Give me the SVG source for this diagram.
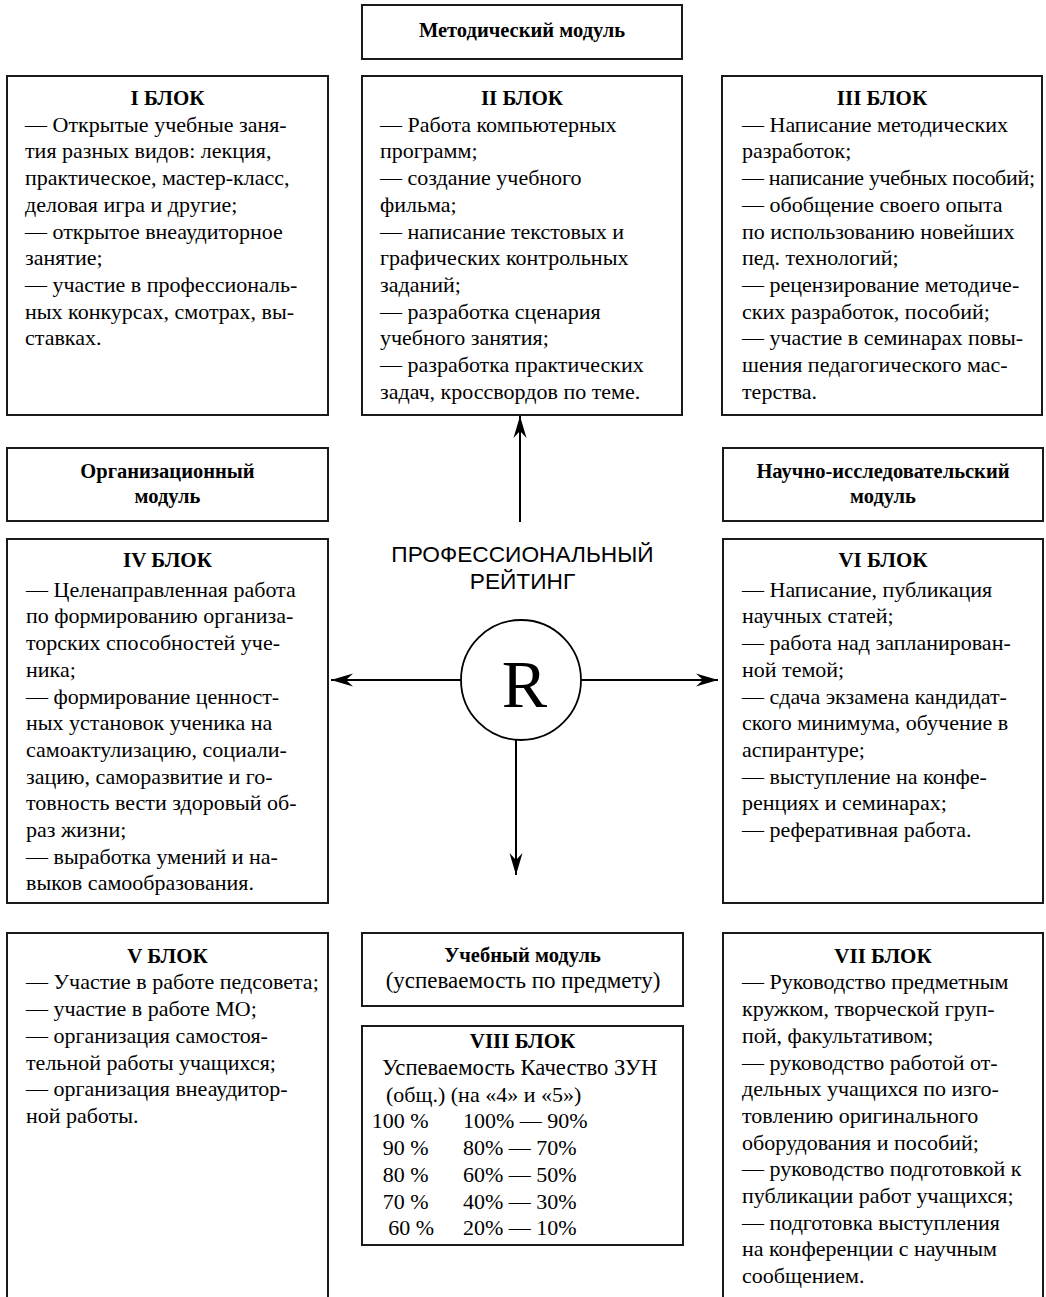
<svg xmlns="http://www.w3.org/2000/svg" width="1046" height="1297" viewBox="0 0 1046 1297">
<style>
.box{fill:#fff;stroke:#1a1a1a;stroke-width:2}
.t{font-family:"Liberation Serif","Times New Roman",serif;font-size:22px;fill:#000}
.h{font-family:"Liberation Serif","Times New Roman",serif;font-weight:bold;font-size:21px;text-anchor:middle;fill:#000}
.m{font-family:"Liberation Serif","Times New Roman",serif;font-weight:bold;font-size:20.5px;text-anchor:middle;fill:#000}
.pr{font-family:"Liberation Sans",Arial,sans-serif;font-size:22.7px;text-anchor:middle;fill:#000}
.conn{stroke:#000;stroke-width:2;fill:none;marker-end:url(#arr)}
</style>
<defs>
<marker id="arr" viewBox="-23 -7 24 14" refX="0" refY="0" markerWidth="24" markerHeight="14" markerUnits="userSpaceOnUse" orient="auto">
<path d="M0,0 L-22,-6.5 L-15,0 L-22,6.5 Z" fill="#000"/>
</marker>
</defs>
<rect width="1046" height="1297" fill="#fff"/>

<g id="metod-module">
<rect class="box" x="362" y="5" width="320" height="54"/>
<text class="m" x="522" y="37">Методический модуль</text>
</g>

<g id="block1">
<rect class="box" x="7" y="76" width="321" height="339"/>
<text class="h" x="167.5" y="105">I БЛОК</text>
<text class="t">
<tspan x="25" y="131.7">— Открытые учебные заня-</tspan>
<tspan x="25" y="158.4">тия разных видов: лекция,</tspan>
<tspan x="25" y="185.1">практическое, мастер-класс,</tspan>
<tspan x="25" y="211.8">деловая игра и другие;</tspan>
<tspan x="25" y="238.5">— открытое внеаудиторное</tspan>
<tspan x="25" y="265.2">занятие;</tspan>
<tspan x="25" y="291.9">— участие в профессиональ-</tspan>
<tspan x="25" y="318.6">ных конкурсах, смотрах, вы-</tspan>
<tspan x="25" y="345.3">ставках.</tspan>
</text>
</g>

<g id="block2">
<rect class="box" x="362" y="76" width="320" height="339"/>
<text class="h" x="522" y="105">II БЛОК</text>
<text class="t">
<tspan x="380" y="131.7">— Работа компьютерных</tspan>
<tspan x="380" y="158.4">программ;</tspan>
<tspan x="380" y="185.1">— создание учебного</tspan>
<tspan x="380" y="211.8">фильма;</tspan>
<tspan x="380" y="238.5">— написание текстовых и</tspan>
<tspan x="380" y="265.2">графических контрольных</tspan>
<tspan x="380" y="291.9">заданий;</tspan>
<tspan x="380" y="318.6">— разработка сценария</tspan>
<tspan x="380" y="345.3">учебного занятия;</tspan>
<tspan x="380" y="372">— разработка практических</tspan>
<tspan x="380" y="398.7">задач, кроссвордов по теме.</tspan>
</text>
</g>

<g id="block3">
<rect class="box" x="722" y="76" width="320" height="339"/>
<text class="h" x="882" y="105">III БЛОК</text>
<text class="t">
<tspan x="742" y="131.7">— Написание методических</tspan>
<tspan x="742" y="158.4">разработок;</tspan>
<tspan x="742" y="185.1" textLength="293" lengthAdjust="spacing">— написание учебных пособий;</tspan>
<tspan x="742" y="211.8">— обобщение своего опыта</tspan>
<tspan x="742" y="238.5">по использованию новейших</tspan>
<tspan x="742" y="265.2">пед. технологий;</tspan>
<tspan x="742" y="291.9">— рецензирование методиче-</tspan>
<tspan x="742" y="318.6">ских разработок, пособий;</tspan>
<tspan x="742" y="345.3">— участие в семинарах повы-</tspan>
<tspan x="742" y="372">шения педагогического мас-</tspan>
<tspan x="742" y="398.7">терства.</tspan>
</text>
</g>

<g id="org-module">
<rect class="box" x="7" y="448" width="321" height="73"/>
<text class="m" x="167.5" y="478">Организационный</text>
<text class="m" x="167.5" y="503">модуль</text>
</g>

<g id="sci-module">
<rect class="box" x="723" y="448" width="320" height="73"/>
<text class="m" x="883" y="478">Научно-исследовательский</text>
<text class="m" x="883" y="503">модуль</text>
</g>

<g id="rating">
<text class="pr" x="522.5" y="562">ПРОФЕССИОНАЛЬНЫЙ</text>
<text class="pr" x="522.5" y="589">РЕЙТИНГ</text>
<circle cx="521" cy="680" r="60" fill="#fff" stroke="#000" stroke-width="1.8"/>
<text x="524.5" y="707" font-family="'Liberation Serif','Times New Roman',serif" font-size="68" text-anchor="middle" fill="#000">R</text>
</g>

<g id="block4">
<rect class="box" x="7" y="539" width="321" height="364"/>
<text class="h" x="167.5" y="566.7">IV БЛОК</text>
<text class="t">
<tspan x="26" y="596.7">— Целенаправленная работа</tspan>
<tspan x="26" y="623.4">по формированию организа-</tspan>
<tspan x="26" y="650.1">торских способностей уче-</tspan>
<tspan x="26" y="676.8">ника;</tspan>
<tspan x="26" y="703.5">— формирование ценност-</tspan>
<tspan x="26" y="730.2">ных установок ученика на</tspan>
<tspan x="26" y="756.9">самоактулизацию, социали-</tspan>
<tspan x="26" y="783.6">зацию, саморазвитие и го-</tspan>
<tspan x="26" y="810.3">товность вести здоровый об-</tspan>
<tspan x="26" y="837">раз жизни;</tspan>
<tspan x="26" y="863.7">— выработка умений и на-</tspan>
<tspan x="26" y="890.4">выков самообразования.</tspan>
</text>
</g>

<g id="block6">
<rect class="box" x="723" y="539" width="320" height="364"/>
<text class="h" x="883" y="566.7">VI БЛОК</text>
<text class="t">
<tspan x="742" y="596.7">— Написание, публикация</tspan>
<tspan x="742" y="623.4">научных статей;</tspan>
<tspan x="742" y="650.1">— работа над запланирован-</tspan>
<tspan x="742" y="676.8">ной темой;</tspan>
<tspan x="742" y="703.5">— сдача экзамена кандидат-</tspan>
<tspan x="742" y="730.2">ского минимума, обучение в</tspan>
<tspan x="742" y="756.9">аспирантуре;</tspan>
<tspan x="742" y="783.6">— выступление на конфе-</tspan>
<tspan x="742" y="810.3">ренциях и семинарах;</tspan>
<tspan x="742" y="837">— реферативная работа.</tspan>
</text>
</g>

<g id="block5">
<rect class="box" x="7" y="933" width="321" height="380"/>
<text class="h" x="167.5" y="962.7">V БЛОК</text>
<text class="t">
<tspan x="26" y="989.4">— Участие в работе педсовета;</tspan>
<tspan x="26" y="1016.1">— участие в работе МО;</tspan>
<tspan x="26" y="1042.8">— организация самостоя-</tspan>
<tspan x="26" y="1069.5">тельной работы учащихся;</tspan>
<tspan x="26" y="1096.2">— организация внеаудитор-</tspan>
<tspan x="26" y="1122.9">ной работы.</tspan>
</text>
</g>

<g id="study-module">
<rect class="box" x="362" y="933" width="321" height="73"/>
<text class="m" x="522.5" y="962">Учебный модуль</text>
<text class="t" x="523" y="988" text-anchor="middle" style="font-size:23px">(успеваемость по предмету)</text>
</g>

<g id="block8">
<rect class="box" x="362" y="1026" width="321" height="219"/>
<text class="h" x="522.5" y="1048">VIII БЛОК</text>
<text class="t">
<tspan x="382" y="1075" style="font-size:22.7px">Успеваемость Качество ЗУН</tspan>
<tspan x="386" y="1101.7">(общ.) (на «4» и «5»)</tspan>
</text>
<text class="t" text-anchor="end">
<tspan x="434" y="1128.4">100 %</tspan>
<tspan x="434" y="1155.1">90 %</tspan>
<tspan x="434" y="1181.8">80 %</tspan>
<tspan x="434" y="1208.5">70 %</tspan>
<tspan x="434" y="1235.2">60 %</tspan>
</text>
<text class="t">
<tspan x="463" y="1128.4">100% — 90%</tspan>
<tspan x="463" y="1155.1">80% — 70%</tspan>
<tspan x="463" y="1181.8">60% — 50%</tspan>
<tspan x="463" y="1208.5">40% — 30%</tspan>
<tspan x="463" y="1235.2">20% — 10%</tspan>
</text>
</g>

<g id="block7">
<rect class="box" x="723" y="933" width="320" height="380"/>
<text class="h" x="883" y="962.7">VII БЛОК</text>
<text class="t">
<tspan x="742" y="989.4">— Руководство предметным</tspan>
<tspan x="742" y="1016.1">кружком, творческой груп-</tspan>
<tspan x="742" y="1042.8">пой, факультативом;</tspan>
<tspan x="742" y="1069.5">— руководство работой от-</tspan>
<tspan x="742" y="1096.2">дельных учащихся по изго-</tspan>
<tspan x="742" y="1122.9">товлению оригинального</tspan>
<tspan x="742" y="1149.6">оборудования и пособий;</tspan>
<tspan x="742" y="1176.3">— руководство подготовкой к</tspan>
<tspan x="742" y="1203">публикации работ учащихся;</tspan>
<tspan x="742" y="1229.7">— подготовка выступления</tspan>
<tspan x="742" y="1256.4">на конференции с научным</tspan>
<tspan x="742" y="1283.1">сообщением.</tspan>
</text>
</g>

<g id="connectors">
<line class="conn" x1="520" y1="522" x2="520" y2="416"/>
<line class="conn" x1="461" y1="680" x2="331" y2="680"/>
<line class="conn" x1="581" y1="680" x2="718" y2="680"/>
<line class="conn" x1="516" y1="740" x2="516" y2="875"/>
</g>
</svg>
